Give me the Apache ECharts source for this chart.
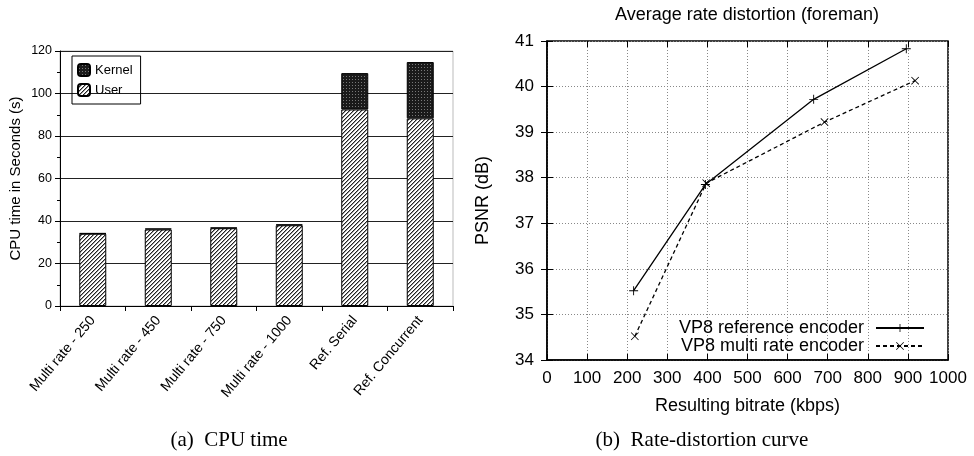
<!DOCTYPE html>
<html>
<head>
<meta charset="utf-8">
<script src="https://cdn.jsdelivr.net/npm/echarts@6/dist/echarts.min.js"></script>
<style>
  html, body { margin: 0; padding: 0; background: #fff; }
  #main { width: 974px; height: 456px; }
</style>
</head>
<body>
<div id="main"></div>
<script>
// left: CPU time per configuration
var categories = ['Multi rate - 250', 'Multi rate - 450', 'Multi rate - 750', 'Multi rate - 1000', 'Ref. Serial', 'Ref. Concurrent'];
var userTime = [34.0, 36.0, 36.6, 38.0, 92.5, 88.3];
var kernelTime = [0.3, 0.5, 0.3, 0.4, 17.1, 26.5];

// right: rate distortion
var refBitrate = [216, 395, 665, 896];
var refPsnr = [35.52, 37.85, 39.72, 40.83];
var multiBitrate = [219, 397, 692, 918];
var multiPsnr = [34.52, 37.88, 39.22, 40.13];

function pairs(xs, ys) {
  return xs.map(function (x, i) { return [x, ys[i]]; });
}

// hatch for user, dark stipple for kernel
function hatch() {
  var c = document.createElement('canvas');
  c.width = 4; c.height = 4;
  var g = c.getContext('2d');
  g.fillStyle = '#fff';
  g.fillRect(0, 0, 4, 4);
  for (var i = 0; i < 4; i++) {
    g.fillStyle = '#222';
    g.fillRect(i, 3 - i, 1, 1);
    g.fillStyle = '#999';
    g.fillRect((i + 1) % 4, 3 - i, 1, 1);
  }
  return c;
}
function stipple() {
  var c = document.createElement('canvas');
  c.width = 3; c.height = 3;
  var g = c.getContext('2d');
  g.fillStyle = '#1a1a1a';
  g.fillRect(0, 0, 3, 3);
  g.fillStyle = '#777';
  g.fillRect(1, 1, 1, 1);
  return c;
}

var plus = 'path://M4.5,0H5.5V4.5H10V5.5H5.5V10H4.5V5.5H0V4.5H4.5Z';
var cross = 'path://M0,0.7L0.7,0L5,4.3L9.3,0L10,0.7L5.7,5L10,9.3L9.3,10L5,5.7L0.7,10L0,9.3L4.3,5Z';

var sans = 'Liberation Sans';
var chart = echarts.init(document.getElementById('main'));

chart.setOption({
  backgroundColor: '#fff',
  animation: false,
  textStyle: { fontFamily: sans, color: '#000' },
  grid: [
    { left: 60, top: 51, width: 393, height: 255, show: true, borderColor: '#bbb', borderWidth: 1 },
    { left: 547, top: 41, width: 401, height: 319, show: true, borderColor: '#000', borderWidth: 1.5 }
  ],
  legend: [
    {
      data: ['Kernel', 'User'],
      orient: 'vertical',
      left: 72, top: 56,
      padding: [7, 8, 7, 5],
      itemWidth: 12, itemHeight: 12, itemGap: 6,
      borderColor: '#000', borderWidth: 1,
      textStyle: { fontSize: 13, fontFamily: sans, color: '#000' }
    },
    {
      data: ['VP8 reference encoder', 'VP8 multi rate encoder'],
      orient: 'vertical',
      align: 'right',
      right: 49, top: 319,
      padding: 0,
      itemWidth: 48, itemHeight: 10, itemGap: 0,
      textStyle: { fontSize: 18, lineHeight: 17, fontFamily: sans, color: '#000', padding: [0, 7, 0, 0] }
    }
  ],
  xAxis: [
    {
      type: 'category', gridIndex: 0, data: categories,
      axisLine: { lineStyle: { color: '#000', width: 1 } },
      axisTick: { show: true, length: 5, lineStyle: { color: '#000' } },
      axisLabel: { interval: 0, rotate: 50, fontSize: 14, margin: 12, color: '#000' }
    },
    {
      type: 'value', gridIndex: 1, min: 0, max: 1000, interval: 100,
      name: 'Resulting bitrate (kbps)', nameLocation: 'middle', nameGap: 37,
      nameTextStyle: { fontSize: 18, color: '#000' },
      axisLine: { lineStyle: { color: '#000', width: 1.5 } },
      axisTick: { inside: true, length: 6, lineStyle: { color: '#000' } },
      axisLabel: { fontSize: 17, margin: 10, color: '#000', formatter: function (v) { return String(v); } },
      splitLine: { lineStyle: { color: '#888', type: [1, 2] } }
    },
    {
      type: 'value', gridIndex: 1, position: 'top', min: 0, max: 1000, interval: 100,
      axisLine: { show: false },
      axisTick: { inside: true, length: 6, lineStyle: { color: '#000' } },
      axisLabel: { show: false },
      splitLine: { show: false }
    }
  ],
  yAxis: [
    {
      type: 'value', gridIndex: 0, min: 0, max: 120, interval: 20,
      name: 'CPU time in Seconds (s)', nameLocation: 'middle', nameGap: 37,
      nameTextStyle: { fontSize: 15, color: '#000' },
      axisLine: { show: true, lineStyle: { color: '#000' } },
      axisTick: { show: true, length: 5, lineStyle: { color: '#000' } },
      minorTick: { show: true, splitNumber: 2, length: 3, lineStyle: { color: '#000' } },
      axisLabel: { fontSize: 12.5, margin: 8, color: '#000' },
      splitLine: { lineStyle: { color: '#222', width: 1 } }
    },
    {
      type: 'value', gridIndex: 1, min: 34, max: 41, interval: 1,
      name: 'PSNR (dB)', nameLocation: 'middle', nameGap: 55,
      nameTextStyle: { fontSize: 18, color: '#000' },
      axisLine: { lineStyle: { color: '#000', width: 1.5 } },
      axisTick: { inside: true, length: 6, lineStyle: { color: '#000' } },
      axisLabel: { fontSize: 17, margin: 13, color: '#000' },
      splitLine: { lineStyle: { color: '#888', type: [1, 2] } }
    },
    {
      type: 'value', gridIndex: 1, position: 'right', min: 34, max: 41, interval: 1,
      axisLine: { show: false },
      axisTick: { show: true, inside: true, length: 6, lineStyle: { color: '#000' } },
      axisLabel: { show: false },
      splitLine: { show: false }
    }
  ],
  series: [
    {
      name: 'User', type: 'bar', stack: 'cpu', xAxisIndex: 0, yAxisIndex: 0,
      barWidth: 27, data: userTime,
      itemStyle: { color: { image: hatch(), repeat: 'repeat' }, borderColor: '#000', borderWidth: 1 }
    },
    {
      name: 'Kernel', type: 'bar', stack: 'cpu', xAxisIndex: 0, yAxisIndex: 0,
      barWidth: 27, data: kernelTime,
      itemStyle: { color: { image: stipple(), repeat: 'repeat' }, borderColor: '#000', borderWidth: 1 }
    },
    {
      name: 'VP8 reference encoder', type: 'line', xAxisIndex: 1, yAxisIndex: 1,
      data: pairs(refBitrate, refPsnr),
      symbol: plus, symbolSize: 9,
      lineStyle: { color: '#000', width: 1.3 },
      itemStyle: { color: '#000' }
    },
    {
      name: 'VP8 multi rate encoder', type: 'line', xAxisIndex: 1, yAxisIndex: 1,
      data: pairs(multiBitrate, multiPsnr),
      symbol: cross, symbolSize: 8,
      lineStyle: { color: '#000', width: 1.3, type: [4, 3] },
      itemStyle: { color: '#000' }
    }
  ],
  graphic: [
    {
      type: 'text', x: 747, y: 15,
      style: { text: 'Average rate distortion (foreman)', font: '18px "Liberation Sans"', fill: '#000', textAlign: 'center', textVerticalAlign: 'middle' }
    },
    {
      type: 'text', x: 229, y: 440,
      style: { text: '(a)  CPU time', font: '21px "Liberation Serif"', fill: '#000', textAlign: 'center', textVerticalAlign: 'middle' }
    },
    {
      type: 'text', x: 702, y: 440,
      style: { text: '(b)  Rate-distortion curve', font: '21px "Liberation Serif"', fill: '#000', textAlign: 'center', textVerticalAlign: 'middle' }
    }
  ]
});
</script>
</body>
</html>
